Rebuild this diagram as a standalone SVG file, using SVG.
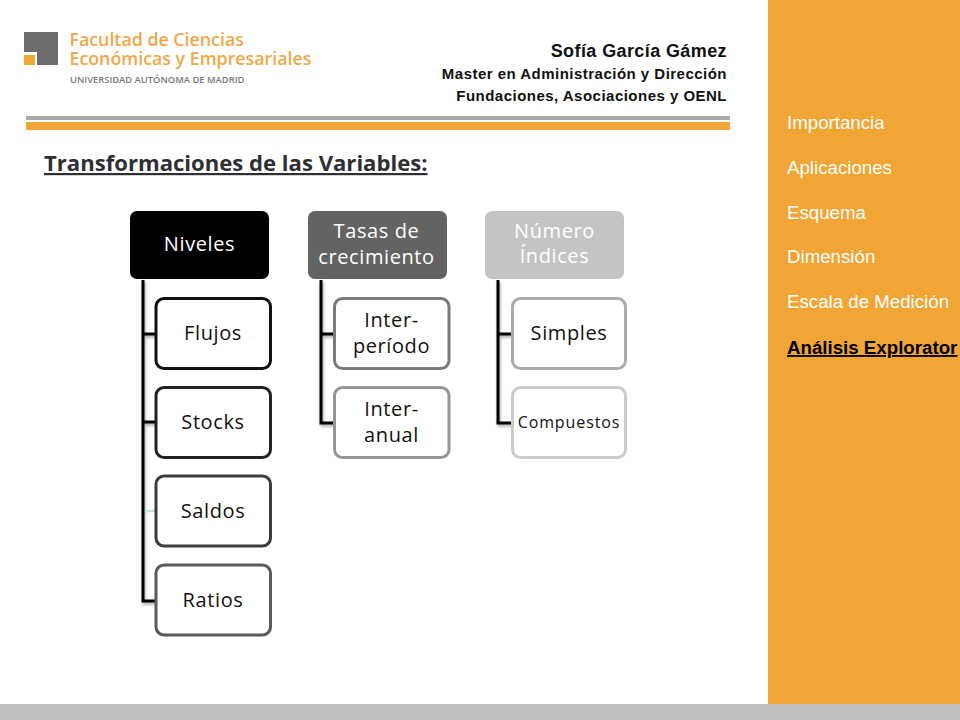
<svg xmlns="http://www.w3.org/2000/svg" width="960" height="720" viewBox="0 0 960 720">
<defs>
<filter id="sh" x="-30%" y="-5%" width="180%" height="115%"><feDropShadow dx="1" dy="2" stdDeviation="1.500" flood-color="#000" flood-opacity="0.35"/></filter>
</defs>
<style>
.arial{font-family:"Liberation Sans",Arial,sans-serif}
.os{font-family:"Open Sans","Noto Sans",sans-serif;text-anchor:middle;letter-spacing:.6px}
.head{font-size:20px;font-weight:500;fill:#fff}
.kid{font-size:20px;fill:#111}
.box{fill:#fff;stroke-width:3}
.conn{fill:none;stroke:#000;stroke-width:3;filter:url(#sh)}
.menu{font-size:18.700px;fill:#fff}
.sub{font-size:15px;font-weight:700;fill:#111;text-anchor:end;letter-spacing:.48px}
</style>
<rect width="960" height="720" fill="#fff"/>
<rect id="sidebar" x="768" y="0" width="192" height="704" fill="#f1a535"/>
<rect id="footer" x="0" y="704" width="960" height="16" fill="#bfbfbf"/>

<g id="logo">
<rect x="24" y="32" width="34" height="33" fill="#6d6d6d"/>
<rect x="24" y="52" width="13" height="13" fill="#fff"/>
<rect x="24" y="55" width="11" height="10" fill="#f1a535"/>
<text font-family="'Open Sans','Noto Sans',sans-serif" font-size="17.800" font-weight="600" fill="#f0a848"><tspan x="69.500" y="46">Facultad de Ciencias</tspan><tspan x="69.500" y="65">Económicas y Empresariales</tspan></text>
<text x="70" y="83" font-family="'Open Sans','Noto Sans',sans-serif" font-size="9.400" font-weight="600" fill="#7a7a7a">UNIVERSIDAD AUTÓNOMA DE MADRID</text>
</g>

<g id="author" class="arial">
<text class="sub" x="727" y="57" style="font-size:18px;letter-spacing:.4px">Sofía García Gámez</text>
<text class="sub" x="727" y="79">Master en Administración y Dirección</text>
<text class="sub" x="727" y="101">Fundaciones, Asociaciones y OENL</text>
</g>

<rect id="rule-grey" x="26" y="116" width="704" height="4" fill="#a9a9ae"/>
<rect id="rule-orange" x="26" y="122" width="704" height="8" fill="#f1a535"/>

<text id="title" x="44" y="171" font-family="'Open Sans','Noto Sans',sans-serif" font-size="22.100" font-weight="700" fill="#2f2f33" text-decoration="underline">Transformaciones de las Variables:</text>

<g id="menu" class="arial">
<text class="menu" x="787" y="128.500">Importancia</text>
<text class="menu" x="787" y="173.500">Aplicaciones</text>
<text class="menu" x="787" y="218.500">Esquema</text>
<text class="menu" x="787" y="262.500">Dimensión</text>
<text class="menu" x="787" y="308">Escala de Medición</text>
<text class="menu" x="787" y="354" style="font-weight:700;fill:#000;text-decoration:underline">Análisis Explorator</text>
</g>

<g id="connectors">
<path class="conn" d="M143 280V601H156M143 334H156M143 422H156"/>
<path d="M145 511H156" stroke="#bfe6d8" stroke-width="2.500" fill="none"/>
<path class="conn" d="M321 280V423H334M321 334H334"/>
<path class="conn" d="M498 280V423H512M498 334H512"/>
</g>

<g id="niveles"><rect x="130" y="211" width="139" height="68" rx="7" fill="#000"/><text class="os head" x="199.500" y="251">Niveles</text></g>
<g id="flujos"><rect class="box" x="156" y="298.500" width="114.500" height="70" rx="8" stroke="#111"/><text class="os kid" x="213" y="339.500">Flujos</text></g>
<g id="stocks"><rect class="box" x="156" y="387.500" width="114.500" height="70" rx="8" stroke="#222"/><text class="os kid" x="213" y="428.500">Stocks</text></g>
<g id="saldos"><rect class="box" x="156" y="476" width="114.500" height="70" rx="8" stroke="#3c3c3c"/><text class="os kid" x="213" y="517.500">Saldos</text></g>
<g id="ratios"><rect class="box" x="156" y="565" width="114.500" height="70" rx="8" stroke="#5a5a5a"/><text class="os kid" x="213" y="606.500">Ratios</text></g>

<g id="tasas"><rect x="308" y="211" width="139" height="68" rx="7" fill="#636363"/><text class="os head" x="376.500" y="238">Tasas de</text><text class="os head" x="376.500" y="264">crecimiento</text></g>
<g id="inter-periodo"><rect class="box" x="334.500" y="298.500" width="114.500" height="70" rx="8" stroke="#7a7a7a"/><text class="os kid" x="391.500" y="326.500">Inter-</text><text class="os kid" x="391.500" y="352.500">período</text></g>
<g id="inter-anual"><rect class="box" x="334.500" y="387.500" width="114.500" height="70" rx="8" stroke="#959595"/><text class="os kid" x="391.500" y="415.500">Inter-</text><text class="os kid" x="391.500" y="441.500">anual</text></g>

<g id="numero"><rect x="485" y="211" width="139" height="68" rx="7" fill="#c4c4c4"/><text class="os head" x="554.500" y="238">Número</text><text class="os head" x="554.500" y="263">Índices</text></g>
<g id="simples"><rect class="box" x="512.500" y="298.500" width="113" height="70" rx="8" stroke="#ababab"/><text class="os kid" x="569" y="339.500">Simples</text></g>
<g id="compuestos"><rect class="box" x="512.500" y="387.500" width="113" height="70" rx="8" stroke="#cbcbcb"/><text class="os" x="569" y="427.500" style="font-size:16px;letter-spacing:.9px" fill="#111">Compuestos</text></g>
</svg>
